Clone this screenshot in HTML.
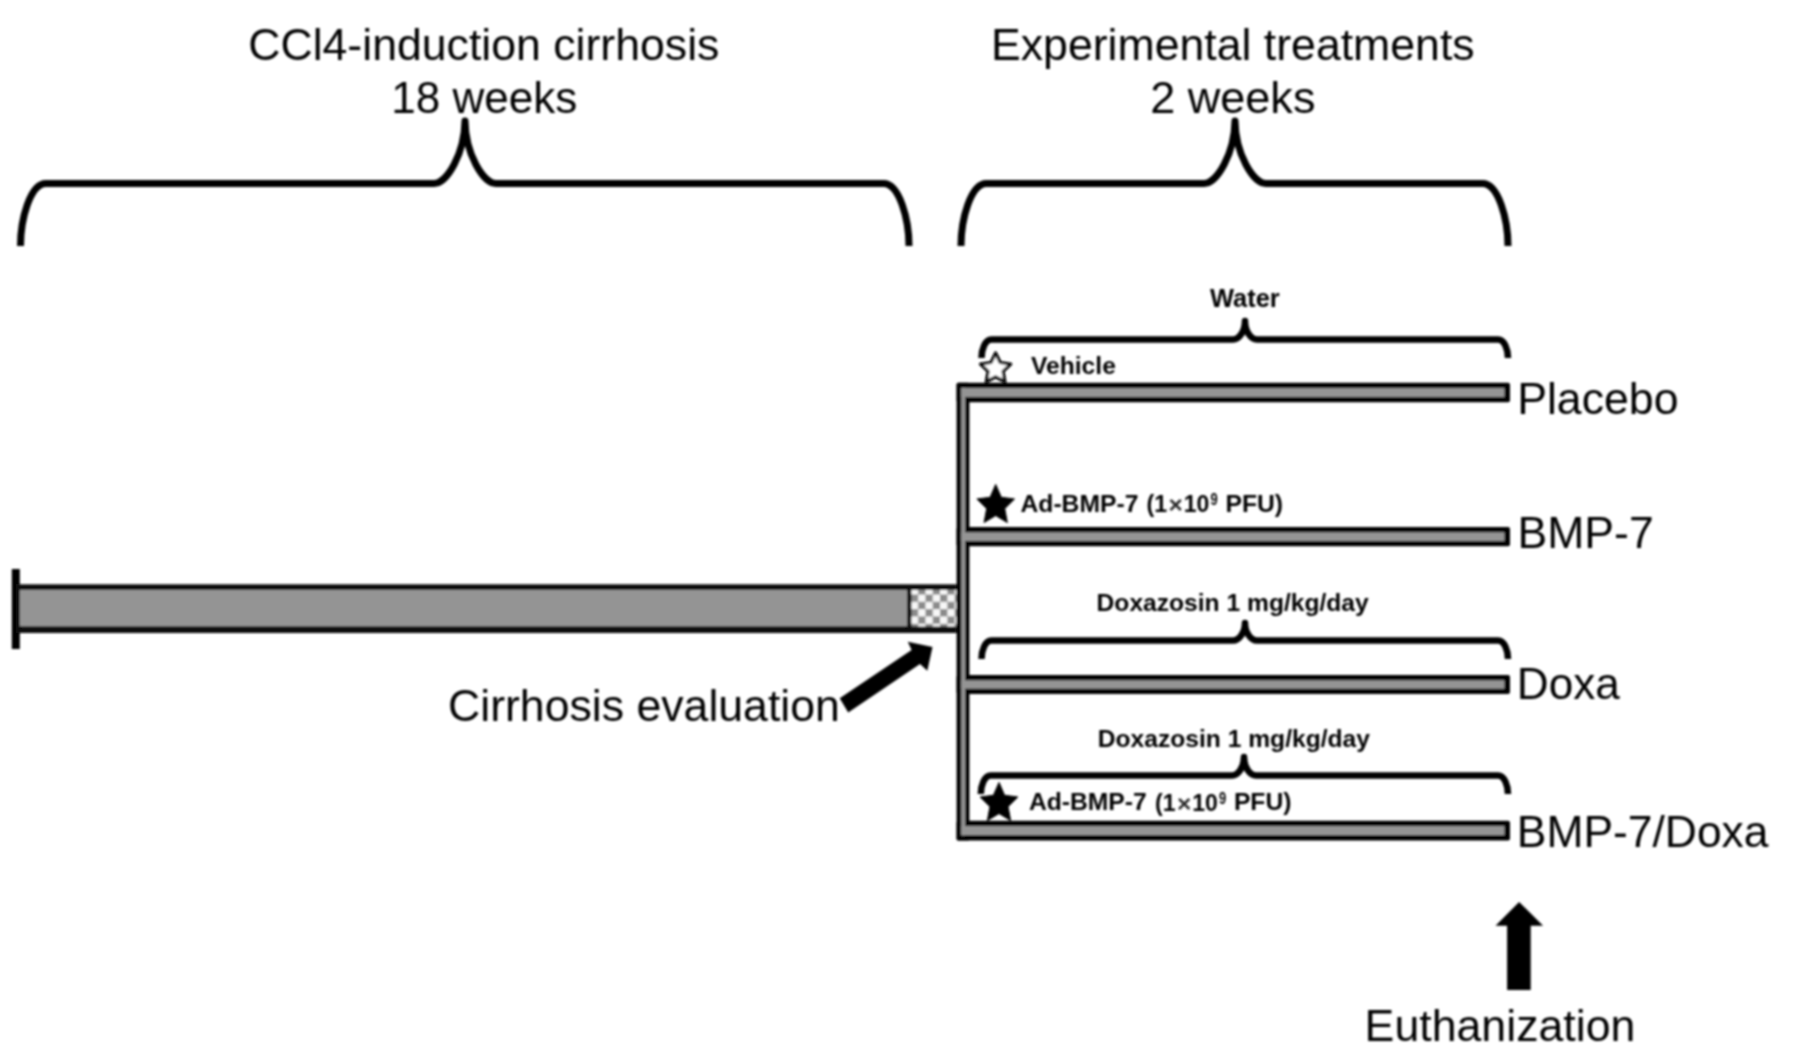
<!DOCTYPE html>
<html><head><meta charset="utf-8"><style>
html,body{margin:0;padding:0;background:#fff;width:1795px;height:1063px;overflow:hidden}
svg{display:block}
</style></head><body>
<svg width="1795" height="1063" viewBox="0 0 1795 1063">
<defs><pattern id="chk" x="910.85" y="594.55" width="14.6" height="14.6" patternUnits="userSpaceOnUse">
<rect width="14.6" height="14.6" fill="#f8f8f8"/><rect x="0" y="0" width="7.3" height="7.3" fill="#8a8a8a"/><rect x="7.3" y="7.3" width="7.3" height="7.3" fill="#8a8a8a"/></pattern><filter id="soft" x="0" y="0" width="1795" height="1063" filterUnits="userSpaceOnUse"><feGaussianBlur stdDeviation="0.8"/></filter></defs>
<rect width="1795" height="1063" fill="#fff"/>
<g filter="url(#soft)">
<path d="M 20.5 246 C 20.5 219.75, 30.0 183.5, 46.0 183.5 L 434 183.5 C 447 183.5, 464.5 153.5, 465 121 C 465.5 153.5, 483 183.5, 496 183.5 L 883.5 183.5 C 899.5 183.5, 909 219.75, 909 246" fill="none" stroke="#000" stroke-width="7" stroke-linejoin="round"/>
<path d="M 961 246 C 961 219.75, 970.5 183.5, 986.5 183.5 L 1204 183.5 C 1217 183.5, 1234.5 153.5, 1235 121 C 1235.5 153.5, 1253 183.5, 1266 183.5 L 1482.5 183.5 C 1498.5 183.5, 1508 219.75, 1508 246" fill="none" stroke="#000" stroke-width="7" stroke-linejoin="round"/>
<path d="M 981.5 358 C 981.5 349.675, 985.0 339.5, 991.5 339.5 L 1233 339.5 C 1239 339.5, 1245 331.5, 1245 321 C 1245 331.5, 1251 339.5, 1257 339.5 L 1498 339.5 C 1504.5 339.5, 1508 349.675, 1508 358" fill="none" stroke="#000" stroke-width="6.5" stroke-linejoin="round"/>
<path d="M 981.5 659 C 981.5 650.675, 985.0 640.5, 991.5 640.5 L 1233 640.5 C 1239 640.5, 1245 632.5, 1245 623 C 1245 632.5, 1251 640.5, 1257 640.5 L 1498 640.5 C 1504.5 640.5, 1508 650.675, 1508 659" fill="none" stroke="#000" stroke-width="6.5" stroke-linejoin="round"/>
<path d="M 980.8 794 C 980.8 785.63, 984.3 775.4, 990.8 775.4 L 1232 775.4 C 1238 775.4, 1244 767.4, 1244 757 C 1244 767.4, 1250 775.4, 1256 775.4 L 1498 775.4 C 1504.5 775.4, 1508 785.63, 1508 794" fill="none" stroke="#000" stroke-width="6.5" stroke-linejoin="round"/>
<rect x="11.8" y="569" width="8" height="80" fill="#000"/>
<rect x="15.8" y="584.3" width="941" height="48.7" fill="#0a0a0a"/>
<rect x="19.8" y="590" width="887.3" height="36.3" fill="#949494"/>
<rect x="911.4" y="590" width="45.2" height="36.5" fill="url(#chk)"/>
<rect x="956.6" y="382.8" width="12.8" height="457.6" rx="1.5" fill="#000"/>
<rect x="956.6" y="382.8" width="553.4" height="19.399999999999977" rx="2" fill="#000"/>
<rect x="956.6" y="527" width="553.4" height="19.200000000000045" rx="2" fill="#000"/>
<rect x="956.6" y="675" width="553.4" height="19" rx="2" fill="#000"/>
<rect x="956.6" y="820.8" width="553.4" height="19.600000000000023" rx="2" fill="#000"/>
<rect x="961.3" y="387.8" width="3.8" height="447.59999999999997" fill="#949494"/>
<rect x="961.6" y="388.1" width="542.9" height="8.799999999999978" fill="#949494"/>
<rect x="961.6" y="532.3" width="542.9" height="8.600000000000046" fill="#949494"/>
<rect x="961.6" y="680.3" width="542.9" height="8.4" fill="#949494"/>
<rect x="961.6" y="826.0999999999999" width="542.9" height="9.000000000000023" fill="#949494"/>
<polygon points="995.60,353.00 1000.24,362.51 1010.72,363.99 1003.11,371.34 1004.95,381.76 995.60,376.80 986.25,381.76 988.09,371.34 980.48,363.99 990.96,362.51" fill="#fff" stroke="#0a0a0a" stroke-width="3.2" stroke-linejoin="round"/>
<polygon points="995.70,484.41 1001.28,497.31 1014.53,498.98 1004.74,508.63 1007.34,522.56 995.70,515.62 984.06,522.56 986.66,508.63 976.87,498.98 990.12,497.31" fill="#000" stroke="#000" stroke-width="1" stroke-linejoin="round"/>
<polygon points="999.00,782.41 1004.58,795.31 1017.83,796.98 1008.04,806.63 1010.64,820.56 999.00,813.62 987.36,820.56 989.96,806.63 980.17,796.98 993.42,795.31" fill="#000" stroke="#000" stroke-width="1" stroke-linejoin="round"/>
<polygon points="839.7,698.2 848.2,712.4 920,664 927.3,670.7 932.5,647 907.8,641.8 911.6,649.9" fill="#000"/>
<polygon points="1519.1,901.9 1543.1,925.7 1530.7,925.7 1530.7,989.9 1507.1,989.9 1507.1,925.7 1495.5,925.7" fill="#000"/>
<text x="248.20" y="60.00" font-size="44.64" font-family="Liberation Sans, sans-serif" fill="#050505">CCl4-induction cirrhosis</text>
<text x="391.24" y="113.20" font-size="44.04" font-family="Liberation Sans, sans-serif" fill="#050505">18 weeks</text>
<text x="991.00" y="59.50" font-size="44.63" font-family="Liberation Sans, sans-serif" fill="#050505">Experimental treatments</text>
<text x="1150.17" y="113.20" font-size="45.05" font-family="Liberation Sans, sans-serif" fill="#050505">2 weeks</text>
<text x="1517.20" y="414.00" font-size="44.63" font-family="Liberation Sans, sans-serif" fill="#050505">Placebo</text>
<text x="1517.60" y="547.70" font-size="44.53" font-family="Liberation Sans, sans-serif" fill="#050505">BMP-7</text>
<text x="1516.83" y="698.70" font-size="44.12" font-family="Liberation Sans, sans-serif" fill="#050505">Doxa</text>
<text x="1516.81" y="846.70" font-size="44.41" font-family="Liberation Sans, sans-serif" fill="#050505">BMP-7/Doxa</text>
<text x="448.00" y="720.70" font-size="44.63" font-family="Liberation Sans, sans-serif" fill="#050505">Cirrhosis evaluation</text>
<text x="1364.59" y="1041.00" font-size="44.70" font-family="Liberation Sans, sans-serif" fill="#050505">Euthanization</text>
<text x="1210.00" y="307.00" font-size="25.45" font-weight="bold" font-family="Liberation Sans, sans-serif" fill="#050505">Water</text>
<text x="1031.00" y="374.00" font-size="24.62" font-weight="bold" font-family="Liberation Sans, sans-serif" fill="#050505">Vehicle</text>
<text x="1096.59" y="611.00" font-size="24.62" font-weight="bold" font-family="Liberation Sans, sans-serif" fill="#050505">Doxazosin 1 mg/kg/day</text>
<text x="1097.79" y="746.80" font-size="24.62" font-weight="bold" font-family="Liberation Sans, sans-serif" fill="#050505">Doxazosin 1 mg/kg/day</text>
<text x="1020.50" y="511.60" font-size="24.68" font-weight="bold" font-family="Liberation Sans, sans-serif" fill="#050505">Ad-BMP-7</text>
<text x="1146.60" y="511.90" font-size="23.20" font-weight="bold" font-family="Liberation Sans, sans-serif" fill="#050505">(1</text>
<text x="1168.60" y="513.20" font-size="24.50" font-weight="bold" font-family="Liberation Sans, sans-serif" fill="#2a2a2a">×</text>
<text x="1183.80" y="512.00" font-size="23.00" font-weight="bold" font-family="Liberation Sans, sans-serif" fill="#050505">10</text>
<text x="1210.60" y="505.00" font-size="17" font-weight="bold" font-family="Liberation Sans, sans-serif" fill="#050505" textLength="7.2" lengthAdjust="spacingAndGlyphs">9</text>
<text x="1225.49" y="511.60" font-size="24.69" font-weight="bold" font-family="Liberation Sans, sans-serif" fill="#050505">PFU)</text>
<text x="1028.90" y="810.20" font-size="24.68" font-weight="bold" font-family="Liberation Sans, sans-serif" fill="#050505">Ad-BMP-7</text>
<text x="1155.00" y="810.50" font-size="23.20" font-weight="bold" font-family="Liberation Sans, sans-serif" fill="#050505">(1</text>
<text x="1177.00" y="811.80" font-size="24.50" font-weight="bold" font-family="Liberation Sans, sans-serif" fill="#2a2a2a">×</text>
<text x="1192.20" y="810.60" font-size="23.00" font-weight="bold" font-family="Liberation Sans, sans-serif" fill="#050505">10</text>
<text x="1219.00" y="803.60" font-size="17" font-weight="bold" font-family="Liberation Sans, sans-serif" fill="#050505" textLength="7.2" lengthAdjust="spacingAndGlyphs">9</text>
<text x="1233.89" y="810.20" font-size="24.69" font-weight="bold" font-family="Liberation Sans, sans-serif" fill="#050505">PFU)</text>
</g>
</svg>
</body></html>
